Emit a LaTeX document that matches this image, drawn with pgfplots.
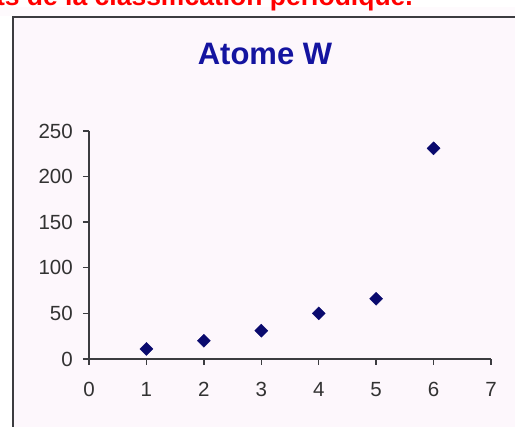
\documentclass[border=0pt]{standalone}
\usepackage{pgfplots}
\pgfplotsset{compat=1.18}
\usepackage{fontspec}
\setmainfont{Liberation Sans}
\definecolor{bgpink}{RGB}{253,247,252}
\definecolor{framegray}{RGB}{60,60,64}
\definecolor{titleblue}{RGB}{20,20,160}
\definecolor{navy}{RGB}{10,10,110}
\definecolor{ticktxt}{RGB}{50,50,50}
\pgfplotstableread{
x y
1 11
2 20
3 31
4 50
5 66
6 231
}\datatable
\begin{document}
\begin{tikzpicture}[x=1pt,y=1pt]
\clip (0,0) rectangle (515,427);
\fill[white] (0,0) rectangle (515,427);
\fill[bgpink!60!white] (0,411) rectangle (515,420);
\fill[bgpink] (12,0) rectangle (520,411);
\draw[framegray, line width=2pt] (13,-5) -- (13,410) -- (520,410);
\node[anchor=base east, text=red, font=\fontsize{26.5}{30}\bfseries\selectfont, inner sep=0pt] at (413,421) {éléments de la classification périodique.};
\node[anchor=base, text=titleblue, font=\fontsize{31}{36}\bfseries\selectfont, inner sep=0pt] at (265,362) {Atome W};
\begin{axis}[
  at={(89pt,68pt)}, anchor=south west,
  scale only axis, width=402pt, height=228pt,
  xmin=0, xmax=7, ymin=0, ymax=250,
  axis x line=bottom, axis y line=left,
  axis line style={-, framegray, line width=1.6pt},
  xtick={0,1,...,7}, ytick={0,50,...,250},
  tick align=outside, major tick length=6pt,
  tick style={framegray, line width=1.4pt},
  /pgf/number format/assume math mode=true,
  ticklabel style={font=\fontsize{20.5}{24}\selectfont, text=ticktxt},
  xticklabel style={inner sep=0pt, yshift=-17pt},
  yticklabel style={inner sep=0pt, xshift=-10pt},
  clip=false,
]
\addplot[only marks, mark=square*, mark size=4.6pt, mark options={rotate=45, fill=navy, draw=navy}] table[x=x,y=y] {\datatable};
\end{axis}
\end{tikzpicture}
\end{document}
